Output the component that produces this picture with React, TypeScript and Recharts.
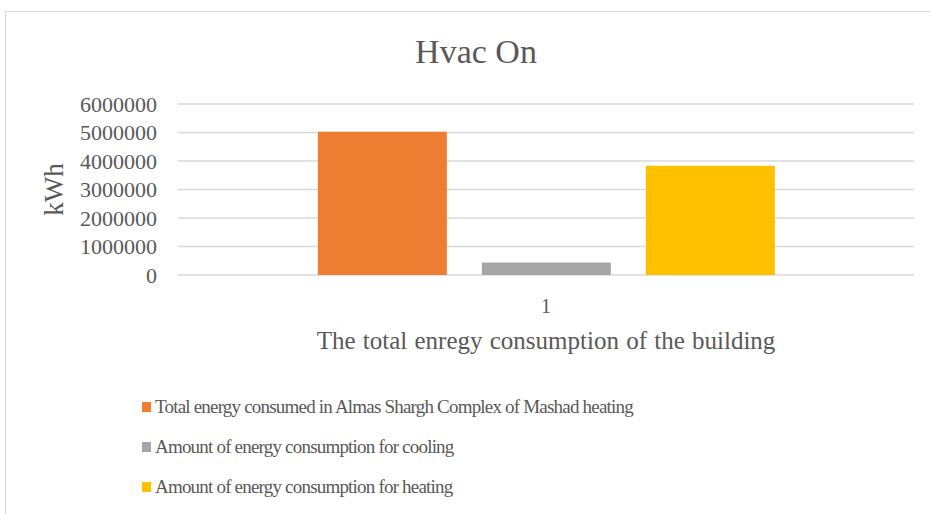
import { BarChart, Bar, XAxis, YAxis, CartesianGrid } from "recharts";

const categories = ["1"];
const totalConsumed = [5030000];
const coolingUse = [440000];
const heatingUse = [3830000];
const yTicks = [0, 1000000, 2000000, 3000000, 4000000, 5000000, 6000000];

const seriesNames = [
  "Total energy consumed in Almas Shargh Complex of Mashad heating",
  "Amount of energy consumption for cooling",
  "Amount of energy consumption for heating",
];
const seriesColors = ["#ED7D31", "#A5A5A5", "#FFC000"];

const data = categories.map((name, i) => ({
  name,
  total: totalConsumed[i],
  cooling: coolingUse[i],
  heating: heatingUse[i],
}));

const font = "'Liberation Serif', 'Times New Roman', serif";
const textColor = "#595959";

function YTitle(props: any) {
  const vb = props.viewBox || {};
  const cx = 54;
  const cy = vb.y + vb.height / 2;
  return (
    <text
      x={cx}
      y={cy}
      transform={`rotate(-90 ${cx} ${cy})`}
      textAnchor="middle"
      dominantBaseline="central"
      fontFamily={font}
      fontSize={27}
      fill={textColor}
    >
      kWh
    </text>
  );
}

export default function App() {
  return (
    <div
      style={{
        position: "fixed",
        left: 0,
        top: 0,
        width: 930,
        height: 514,
        background: "#fff",
        overflow: "hidden",
      }}
    >
      <div
        style={{
          position: "absolute",
          left: 5,
          top: 11,
          width: 940,
          height: 520,
          borderLeft: "1.5px solid #d9d9d9",
          borderTop: "1.5px solid #d9d9d9",
        }}
      />
      <div
        style={{
          position: "absolute",
          left: 0,
          top: 33,
          width: 952,
          textAlign: "center",
          fontFamily: font,
          fontSize: 34,
          color: textColor,
        }}
      >
        Hvac On
      </div>
      <BarChart
        width={930}
        height={514}
        data={data}
        margin={{ top: 104, right: 16, left: 0, bottom: 159 }}
        barCategoryGap="19%"
        barGap={35}
        style={{ position: "absolute", left: 0, top: 0 }}
      >
        <CartesianGrid vertical={false} stroke="#d9d9d9" strokeWidth={1.5} />
        <XAxis
          dataKey="name"
          axisLine={false}
          tickLine={false}
          tickSize={0}
          tickMargin={24}
          height={80}
          tick={{ fontFamily: font, fontSize: 20, fill: textColor }}
          label={{
            value: "The total enregy consumption of the building",
            position: "insideTop",
            offset: 56,
            style: { fontFamily: font, fontSize: 25, fill: textColor, wordSpacing: 1 },
          }}
        />
        <YAxis
          width={178}
          domain={[0, 6000000]}
          ticks={yTicks}
          interval={0}
          axisLine={false}
          tickLine={false}
          tickSize={0}
          tickMargin={21}
          tick={{ fontFamily: font, fontSize: 22, fill: textColor }}
          label={<YTitle />}
        />
        <Bar dataKey="total" name={seriesNames[0]} fill={seriesColors[0]} isAnimationActive={false} />
        <Bar dataKey="cooling" name={seriesNames[1]} fill={seriesColors[1]} isAnimationActive={false} />
        <Bar dataKey="heating" name={seriesNames[2]} fill={seriesColors[2]} isAnimationActive={false} />
      </BarChart>
      <div style={{ position: "absolute", left: 142, top: 387 }}>
        {seriesNames.map((n, i) => (
          <div
            key={n}
            style={{
              display: "flex",
              alignItems: "center",
              height: 40,
              fontFamily: font,
              fontSize: 19,
              letterSpacing: -0.8,
              color: textColor,
              whiteSpace: "nowrap",
            }}
          >
            <span
              style={{
                display: "inline-block",
                width: 9,
                height: 10,
                background: seriesColors[i],
                marginRight: 4,
              }}
            />
            {n}
          </div>
        ))}
      </div>
    </div>
  );
}
